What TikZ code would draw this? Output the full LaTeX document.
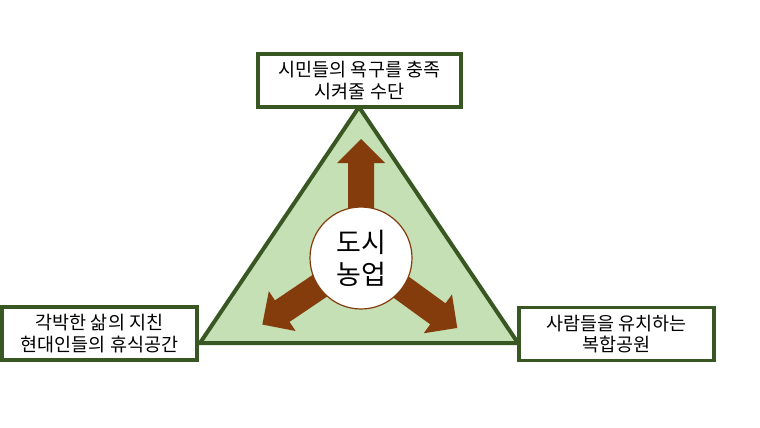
\documentclass[tikz,border=0pt]{standalone}
\usepackage{fontspec}
\newfontfamily\kr{Noto Sans CJK KR}
\definecolor{tfill}{RGB}{197,224,180}
\definecolor{tline}{RGB}{56,87,35}
\definecolor{abrown}{RGB}{132,60,12}
\tikzset{
  txtbox/.style={draw=tline, line width=3.5pt, fill=white, minimum width=#1, minimum height=53pt, inner sep=0pt, align=center, font={\kr\fontsize{18.5}{21.5}\selectfont}},
  arrowshape/.style={fill=abrown},
}
\begin{document}
\begin{tikzpicture}[x=1pt,y=-1pt]
\useasboundingbox (0,0) rectangle (760,428);
\coordinate (apex) at (359,107);
\coordinate (bl) at (200,343);
\coordinate (br) at (518,343);
\filldraw[fill=tfill, draw=tline, line width=4pt, line join=miter] (apex) -- (bl) -- (br) -- cycle;
\foreach \ang in {0,124,-126}{
  \begin{scope}[shift={(361,258)}, rotate=\ang]
    \fill[arrowshape] (-13,0) -- (-13,-95) -- (-24,-95) -- (0,-119) -- (24,-95) -- (13,-95) -- (13,0) -- cycle;
  \end{scope}
}
\node[circle, draw=abrown, line width=1.2pt, fill=white, minimum size=102pt, inner sep=0pt, align=center, font={\kr\fontsize{27}{32}\selectfont}] (center) at (361,258) {도시\\농업};
\node[txtbox=203pt] (top) at (359.5,80.5) {시민들의 욕구를 충족\\시켜줄 수단};
\node[txtbox=195pt] (left) at (99.5,333.5) {각박한 삶의 지친\\현대인들의 휴식공간};
\node[txtbox=195pt] (right) at (616.5,334) {사람들을 유치하는\\복합공원};
\end{tikzpicture}
\end{document}
